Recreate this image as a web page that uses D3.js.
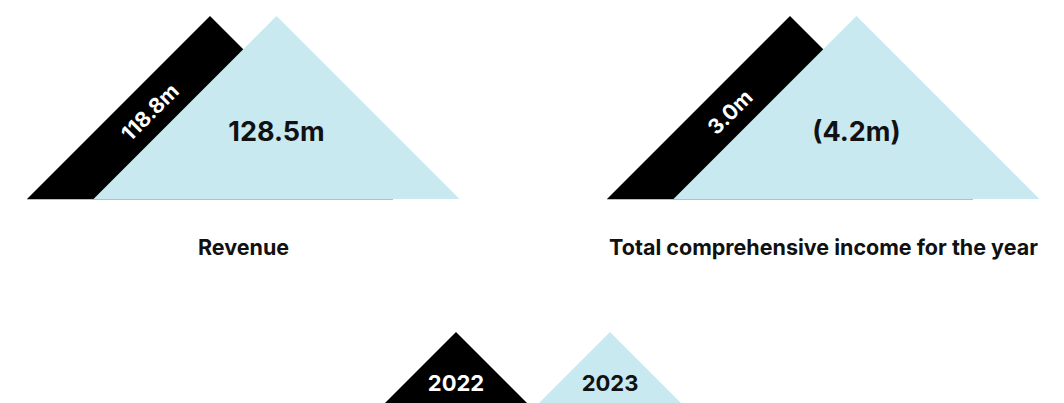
<!DOCTYPE html>
<html>
<head>
<meta charset="utf-8">
<script src="https://cdn.jsdelivr.net/npm/d3@7"></script>
<style>
    body { margin: 0; background: #ffffff; }
    svg text { font-family: Inter, 'Open Sans', sans-serif; font-weight: 700; }
</style>
</head>
<body>
<svg></svg>
<script>
const METRICS = ['Revenue', 'Total comprehensive income for the year'];
const YEARS = ['2022', '2023'];
const VALUES_2022 = [118.8, 3.0];
const VALUES_2023 = [128.5, -4.2];

const COLORS = { '2022': '#000000', '2023': '#c9e9f0' };
const TEXT_COLORS = { '2022': '#ffffff', '2023': '#111111' };

const WIDTH = 1064;
const HEIGHT = 403;
const BASE_Y = 199;
const TRI_HEIGHT = 183;

const fmt = v => v < 0 ? `(${Math.abs(v).toFixed(1)}m)` : `${v.toFixed(1)}m`;

const svg = d3.select('svg')
    .attr('width', WIDTH)
    .attr('height', HEIGHT);

// panels across the page
const xPanel = d3.scaleBand()
    .domain(METRICS)
    .range([27, 1040])
    .paddingInner(0.2534)
    .paddingOuter(0);

// where each year's triangle starts inside a panel
const xYear = d3.scaleOrdinal()
    .domain(YEARS)
    .range([0, 66.5]);

const tri = (x0, base, h) => `M${x0},${base}L${x0 + h},${base - h}L${x0 + 2 * h},${base}Z`;

const panelData = METRICS.map((m, i) => ({
    metric: m,
    items: [
        { year: '2022', value: VALUES_2022[i] },
        { year: '2023', value: VALUES_2023[i] }
    ]
}));

const panels = svg.selectAll('.panel')
    .data(panelData)
    .enter()
    .append('g')
    .classed('panel', true)
    .attr('transform', d => `translate(${xPanel(d.metric)},0)`);

// faint base line under the 2022 triangle
panels.append('line')
    .attr('x1', xYear('2022'))
    .attr('x2', xYear('2022') + 2 * TRI_HEIGHT)
    .attr('y1', BASE_Y + 0.5)
    .attr('y2', BASE_Y + 0.5)
    .attr('stroke', '#b4c0c4')
    .attr('stroke-width', 1);

panels.selectAll('.tri')
    .data(d => d.items)
    .enter()
    .append('path')
    .classed('tri', true)
    .attr('d', d => tri(xYear(d.year), BASE_Y, TRI_HEIGHT))
    .attr('fill', d => COLORS[d.year]);

// 2022 value runs up the visible black band
panels.append('text')
    .attr('transform', `translate(${xYear('2022') + 123},${112}) rotate(-45)`)
    .attr('text-anchor', 'middle')
    .attr('dominant-baseline', 'central')
    .attr('font-size', 21)
    .attr('fill', TEXT_COLORS['2022'])
    .text(d => fmt(d.items[0].value));

// 2023 value in the light triangle
panels.append('text')
    .attr('x', xYear('2023') + TRI_HEIGHT)
    .attr('y', BASE_Y - 58)
    .attr('text-anchor', 'middle')
    .attr('font-size', 27)
    .attr('fill', TEXT_COLORS['2023'])
    .text(d => fmt(d.items[1].value));

panels.append('text')
    .attr('x', xPanel.bandwidth() / 2)
    .attr('y', 255)
    .attr('text-anchor', 'middle')
    .attr('font-size', 21.5)
    .attr('fill', '#111111')
    .text(d => d.metric);

// legend
const xLegend = d3.scaleOrdinal()
    .domain(YEARS)
    .range([456, 610]);

const legend = svg.selectAll('.legend')
    .data(YEARS)
    .enter()
    .append('g')
    .classed('legend', true)
    .attr('transform', d => `translate(${xLegend(d)},0)`);

legend.append('path')
    .attr('d', tri(-90, 422, 90))
    .attr('fill', d => COLORS[d]);

legend.append('text')
    .attr('x', 0)
    .attr('y', 391)
    .attr('text-anchor', 'middle')
    .attr('font-size', 22)
    .attr('fill', d => TEXT_COLORS[d])
    .text(d => d);
</script>
</body>
</html>
